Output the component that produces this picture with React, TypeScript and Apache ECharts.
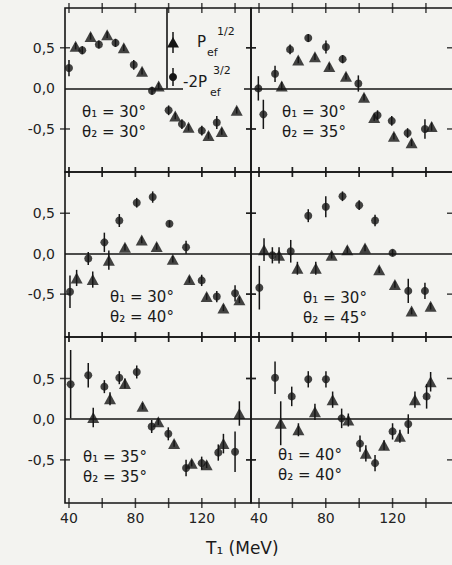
import React, { useEffect, useRef } from "react";
import * as echarts from "echarts";

// ---------- data ----------
const xTickValues = [40, 60, 80, 100, 120, 140];
const xLabelValues = [40, 80, 120];
const yTickValues = [-0.5, 0.5];
const yLabelValues = [-0.5, 0, 0.5];

// [T1 (MeV), value, error]
const circles_30_30 = [
  [40, 0.25, 0.1], [48, 0.47, 0.05], [58, 0.54, 0.05], [68, 0.56, 0.05],
  [79, 0.29, 0.06], [90, -0.03, 0.05], [100, -0.27, 0.06], [108, -0.44, 0.06],
  [120, -0.52, 0.06], [129, -0.42, 0.08],
];
const triangles_30_30 = [
  [44, 0.52, 0.04], [53, 0.64, 0.04], [63, 0.66, 0.04], [73, 0.5, 0.04],
  [84, 0.21, 0.04], [94, 0.03, 0.04], [104, -0.34, 0.04], [112, -0.48, 0.04],
  [124, -0.58, 0.04], [132, -0.53, 0.04], [141, -0.27, 0.04],
];
const circles_30_35 = [
  [39.6, 0.0, 0.15], [42.6, -0.32, 0.18], [49.6, 0.18, 0.1], [58.6, 0.48, 0.06],
  [69.5, 0.62, 0.05], [80.1, 0.51, 0.08], [90.1, 0.36, 0.05], [99.5, 0.06, 0.1],
  [111, -0.33, 0.06], [119.5, -0.4, 0.06], [129, -0.55, 0.06], [139.4, -0.5, 0.12],
];
const triangles_30_35 = [
  [53.6, 0.03, 0.05], [63.5, 0.35, 0.04], [73.5, 0.39, 0.04], [82.1, 0.27, 0.04],
  [92.1, 0.15, 0.04], [102.9, -0.11, 0.04], [109, -0.36, 0.04], [120.8, -0.59, 0.04],
  [131.4, -0.67, 0.04], [143.4, -0.47, 0.05],
];
const circles_30_40 = [
  [40.6, -0.47, 0.2], [51.6, -0.06, 0.08], [61.3, 0.14, 0.12], [70.3, 0.41, 0.08],
  [80.8, 0.63, 0.06], [90.4, 0.7, 0.07], [100.5, 0.37, 0.04], [110.5, 0.08, 0.08],
  [119.9, -0.33, 0.07], [129, -0.53, 0.07], [140, -0.49, 0.1],
];
const triangles_30_40 = [
  [44.6, -0.3, 0.1], [54.3, -0.32, 0.1], [64, -0.08, 0.12], [73.7, 0.08, 0.04],
  [83.8, 0.17, 0.04], [92.8, 0.09, 0.04], [102.5, -0.07, 0.04], [112.5, -0.32, 0.04],
  [122.9, -0.53, 0.04], [133, -0.67, 0.04], [142.6, -0.57, 0.04],
];
const circles_30_45 = [
  [40.2, -0.42, 0.27], [48, -0.02, 0.1], [59, 0.03, 0.14], [69.5, 0.47, 0.08],
  [80, 0.58, 0.13], [90, 0.71, 0.06], [100, 0.6, 0.06], [109.5, 0.41, 0.07],
  [120, 0.01, 0.04], [129.4, -0.46, 0.15], [139.4, -0.46, 0.1],
];
const triangles_30_45 = [
  [43, 0.05, 0.14], [52, -0.02, 0.1], [63, -0.18, 0.08], [74, -0.18, 0.08],
  [83.5, -0.02, 0.04], [92.9, 0.05, 0.04], [103.5, 0.07, 0.04], [112, -0.2, 0.04],
  [121.4, -0.38, 0.04], [131.4, -0.71, 0.04], [142.8, -0.65, 0.04],
];
const circles_35_35 = [
  [41, 0.43, 0.42], [51.6, 0.54, 0.15], [61.3, 0.4, 0.08], [70.3, 0.51, 0.08],
  [80.8, 0.58, 0.08], [89.8, -0.09, 0.08], [99.8, -0.18, 0.08], [110.5, -0.6, 0.1],
  [119.9, -0.54, 0.08], [129.9, -0.41, 0.1], [140, -0.4, 0.25],
];
const triangles_35_35 = [
  [54.6, 0.02, 0.12], [64.7, 0.25, 0.08], [73.7, 0.44, 0.06], [84.3, 0.16, 0.04],
  [93.8, -0.03, 0.04], [103.3, -0.3, 0.04], [113.9, -0.54, 0.04], [122.9, -0.56, 0.04],
  [133, -0.3, 0.12], [142.6, 0.07, 0.15],
];
const circles_40_40 = [
  [49.6, 0.51, 0.2], [59.6, 0.28, 0.12], [69.5, 0.49, 0.1], [80.1, 0.49, 0.1],
  [89.5, 0.01, 0.12], [100.5, -0.3, 0.1], [109.5, -0.54, 0.1], [120, -0.15, 0.1],
  [129.4, -0.06, 0.12], [140.4, 0.28, 0.15],
];
const triangles_40_40 = [
  [53, -0.05, 0.27], [63.6, -0.13, 0.08], [73.5, 0.09, 0.1], [84.1, 0.24, 0.1],
  [93.5, -0.01, 0.08], [104, -0.42, 0.1], [114.9, -0.32, 0.06], [124.4, -0.21, 0.08],
  [133.4, 0.24, 0.1], [142.8, 0.46, 0.12],
];

const panelCircles = [circles_30_30, circles_30_35, circles_30_40, circles_30_45, circles_35_35, circles_40_40];
const panelTriangles = [triangles_30_30, triangles_30_35, triangles_30_40, triangles_30_45, triangles_35_35, triangles_40_40];
const panelTheta1 = ["30°", "30°", "30°", "30°", "35°", "40°"];
const panelTheta2 = ["30°", "35°", "40°", "45°", "35°", "40°"];

// ---------- layout ----------
const COL_LEFT = [65, 251];
const COL_WIDTH = [186, 204];
const ROW_TOP = [8, 172, 337];
const ROW_HEIGHT = [164, 165, 166];
const X_RANGE = [[37.6, 149.6], [35.2, 157.4]];
const Y_RANGE = [[-1.03, 0.99], [-1.03, 1.01], [-1.03, 1.01]];
const ANNOT_OFFSET = [[17, 104], [31, 104], [45, 125], [52, 126], [18, 120], [27, 118]];

const INK = "#151515";
const BG = "#f3f3f0";
const FONT = "DejaVu Sans";
const LW = 1.6;

function buildOption() {
  const grid: any[] = [];
  const xAxis: any[] = [];
  const yAxis: any[] = [];
  const series: any[] = [];
  const graphic: any[] = [];

  for (let i = 0; i < 6; i++) {
    const row = Math.floor(i / 2);
    const col = i % 2;
    const [xmin, xmax] = X_RANGE[col];
    const [ymin, ymax] = Y_RANGE[row];
    grid.push({
      left: COL_LEFT[col],
      top: ROW_TOP[row],
      width: COL_WIDTH[col],
      height: ROW_HEIGHT[row],
      show: true,
      borderColor: INK,
      borderWidth: LW,
      backgroundColor: "transparent",
    });
    xAxis.push({
      type: "value",
      gridIndex: i,
      min: xmin,
      max: xmax,
      axisLine: { show: false },
      axisTick: { show: false },
      splitLine: { show: false },
      axisLabel: {
        show: row === 2,
        customValues: xLabelValues,
        margin: 8,
        fontFamily: FONT,
        fontSize: 14,
        color: "#222",
      },
    });
    yAxis.push({
      type: "value",
      gridIndex: i,
      min: ymin,
      max: ymax,
      axisLine: { show: false },
      axisTick: { show: false },
      splitLine: { show: false },
      axisLabel: {
        show: col === 0,
        customValues: yLabelValues,
        margin: 10,
        fontFamily: FONT,
        fontSize: 14,
        color: "#222",
        formatter: (v: number) => v.toFixed(1).replace(".", ","),
      },
    });

    // error bars
    series.push({
      type: "custom",
      xAxisIndex: i,
      yAxisIndex: i,
      silent: true,
      data: [...panelCircles[i], ...panelTriangles[i]],
      encode: { x: 0, y: 1 },
      renderItem: (params: any, api: any) => {
        const x = api.value(0);
        const y = api.value(1);
        const e = api.value(2);
        const p1 = api.coord([x, y + e]);
        const p2 = api.coord([x, y - e]);
        return {
          type: "line",
          shape: { x1: p1[0], y1: p1[1], x2: p2[0], y2: p2[1] },
          style: { stroke: INK, lineWidth: 1.5 },
        };
      },
      z: 3,
    });
    series.push({
      type: "scatter",
      xAxisIndex: i,
      yAxisIndex: i,
      silent: true,
      symbol: "circle",
      symbolSize: 8,
      itemStyle: { color: INK },
      data: panelCircles[i].map((d) => [d[0], d[1]]),
      z: 4,
    });
    series.push({
      type: "scatter",
      xAxisIndex: i,
      yAxisIndex: i,
      silent: true,
      symbol: "triangle",
      symbolSize: [12, 11],
      itemStyle: { color: INK },
      data: panelTriangles[i].map((d) => [d[0], d[1]]),
      z: 4,
    });
    // x ticks (top & bottom) + zero line
    const xt: number[][] = [];
    xTickValues.forEach((t) => {
      xt.push([t, ymax]);
      xt.push([t, ymin]);
    });
    series.push({
      type: "scatter",
      xAxisIndex: i,
      yAxisIndex: i,
      silent: true,
      clip: false,
      symbol: "rect",
      symbolSize: [1.5, 10],
      itemStyle: { color: INK },
      data: xt,
      z: 5,
      markLine: {
        silent: true,
        symbol: "none",
        label: { show: false },
        lineStyle: { color: INK, width: LW, type: "solid" },
        data: [{ yAxis: 0 }],
      },
    });
    // y ticks
    series.push({
      type: "scatter",
      xAxisIndex: i,
      yAxisIndex: i,
      silent: true,
      clip: false,
      symbol: "rect",
      symbolSize: [10, 1.5],
      itemStyle: { color: INK },
      data: yTickValues.map((v) => [xmin, v]),
      z: 5,
    });
    series.push({
      type: "scatter",
      xAxisIndex: i,
      yAxisIndex: i,
      silent: true,
      clip: false,
      symbol: "rect",
      symbolSize: [col === 1 ? 16 : 10, 1.5],
      itemStyle: { color: INK },
      data: yTickValues.map((v) => [xmax, v]),
      z: 5,
    });

    // annotation
    const ax = COL_LEFT[col] + ANNOT_OFFSET[i][0];
    const ay = ROW_TOP[row] + ANNOT_OFFSET[i][1];
    graphic.push({
      type: "text",
      x: ax,
      y: ay,
      z: 100,
      style: { text: "θ₁ = " + panelTheta1[i], fontFamily: FONT, fontSize: 15, fill: "#1a1a1a", verticalAlign: "middle" },
    });
    graphic.push({
      type: "text",
      x: ax,
      y: ay + 20,
      z: 100,
      style: { text: "θ₂ = " + panelTheta2[i], fontFamily: FONT, fontSize: 15, fill: "#1a1a1a", verticalAlign: "middle" },
    });
  }

  // legend box in first panel
  graphic.push(
    { type: "rect", z: 90, shape: { x: 183, y: 85.5, width: 61, height: 5 }, style: { fill: BG } },
    { type: "line", z: 100, shape: { x1: 167, y1: 8, x2: 167, y2: 88.5 }, style: { stroke: INK, lineWidth: LW } },
    { type: "line", z: 100, shape: { x1: 173, y1: 32, x2: 173, y2: 53 }, style: { stroke: INK, lineWidth: 1.5 } },
    { type: "polygon", z: 100, shape: { points: [[167, 47.5], [179, 47.5], [173, 37]] }, style: { fill: INK } },
    { type: "line", z: 100, shape: { x1: 173, y1: 68, x2: 173, y2: 86 }, style: { stroke: INK, lineWidth: 1.5 } },
    { type: "circle", z: 100, shape: { cx: 173, cy: 77, r: 4 }, style: { fill: INK } },
    { type: "text", z: 100, x: 197, y: 42, style: { text: "P", fontFamily: FONT, fontSize: 15, fill: "#1a1a1a", verticalAlign: "middle" } },
    { type: "text", z: 100, x: 207, y: 52, style: { text: "ef", fontFamily: FONT, fontSize: 11, fill: "#1a1a1a", verticalAlign: "middle" } },
    { type: "text", z: 100, x: 217, y: 31, style: { text: "1/2", fontFamily: FONT, fontSize: 11, fill: "#1a1a1a", verticalAlign: "middle" } },
    { type: "text", z: 100, x: 183, y: 82, style: { text: "-2P", fontFamily: FONT, fontSize: 15, fill: "#1a1a1a", verticalAlign: "middle" } },
    { type: "text", z: 100, x: 210, y: 92, style: { text: "ef", fontFamily: FONT, fontSize: 11, fill: "#1a1a1a", verticalAlign: "middle" } },
    { type: "text", z: 100, x: 213, y: 70, style: { text: "3/2", fontFamily: FONT, fontSize: 11, fill: "#1a1a1a", verticalAlign: "middle" } },
    { type: "text", z: 100, x: 206, y: 548, style: { text: "T₁ (MeV)", fontFamily: FONT, fontSize: 17, fill: "#1a1a1a", verticalAlign: "middle" } }
  );

  return {
    animation: false,
    backgroundColor: BG,
    grid,
    xAxis,
    yAxis,
    series,
    graphic,
  };
}

export default function App() {
  const ref = useRef<HTMLDivElement>(null);
  useEffect(() => {
    if (!ref.current) return;
    const chart = echarts.init(ref.current, undefined, { renderer: "svg" });
    chart.setOption(buildOption() as any);
    return () => chart.dispose();
  }, []);
  return (
    <div style={{ position: "fixed", left: 0, top: 0, width: 452, height: 565, overflow: "hidden", background: BG }}>
      <div ref={ref} style={{ width: 460, height: 565 }} />
    </div>
  );
}
